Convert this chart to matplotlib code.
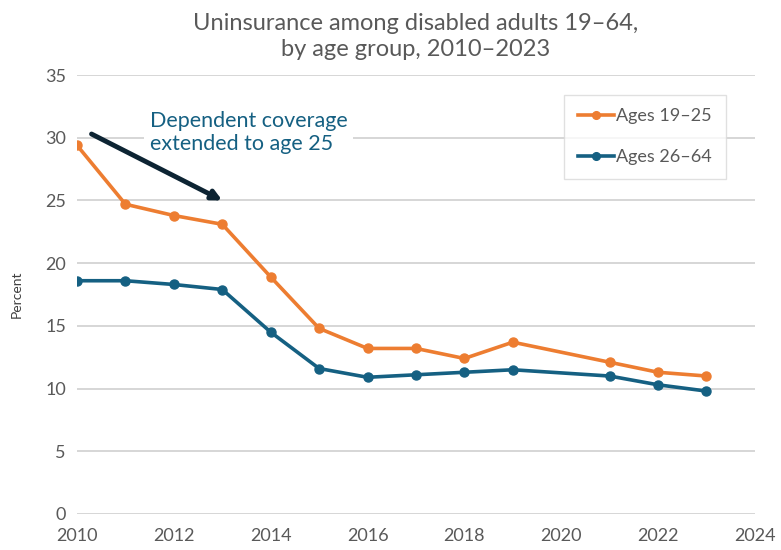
import matplotlib.pyplot as plt

years_young = [2010, 2011, 2012, 2013, 2014, 2015, 2016, 2017, 2018, 2019, 2021, 2022, 2023]
ages_19_25 = [29.4, 24.7, 23.8, 23.1, 18.9, 14.8, 13.2, 13.2, 12.4, 13.7, 12.1, 11.3, 11.0]
ages_26_64 = [18.6, 18.6, 18.3, 17.9, 14.5, 11.6, 10.9, 11.1, 11.3, 11.5, 11.0, 10.3, 9.8]
xticks = list(range(2010, 2025, 2))
yticks = list(range(0, 36, 5))

orange = '#ED7D31'
blue = '#156082'
grey = '#595959'

plt.rcParams['font.family'] = ['Lato', 'DejaVu Sans']

fig = plt.figure(figsize=(7.81, 5.5), dpi=100)
ax = fig.add_axes([0.0986, 0.0655, 0.868, 0.798])

ax.plot(years_young, ages_19_25, marker='o', markersize=6.5, linewidth=2.6,
        color=orange, label='Ages 19\u201325', zorder=3)
ax.plot(years_young, ages_26_64, marker='o', markersize=6.5, linewidth=2.6,
        color=blue, label='Ages 26\u201364', zorder=3)

ax.set_xlim(2010, 2024)
ax.set_ylim(0, 35)
ax.set_xticks(xticks)
ax.set_yticks(yticks)
ax.grid(axis='y', color='#d0d0d0', linewidth=1.2)
ax.set_axisbelow(True)
for s in ax.spines.values():
    s.set_visible(False)
ax.tick_params(length=0, labelsize=13, colors=grey, pad=8)
ax.tick_params(axis='x', pad=10)
ax.set_ylabel('Percent', fontsize=10, color='#404040', labelpad=16)

ax.set_title('Uninsurance among disabled adults 19\u201364,\nby age group, 2010\u20132023',
             fontsize=17, color=grey, pad=14, linespacing=1.25)

ax.text(2011.5, 30.4, 'Dependent coverage\nextended to age 25', fontsize=15.5, color=blue,
        va='center', ha='left', linespacing=1.2,
        bbox=dict(facecolor='white', edgecolor='none', pad=4), zorder=2)
ax.annotate('', xy=(2013.0, 25.0), xytext=(2010.3, 30.3),
            arrowprops=dict(arrowstyle='-|>', color='#0d2433', lw=3.5,
                            mutation_scale=14, shrinkA=0, shrinkB=0), zorder=4)

leg = ax.legend(loc='upper right', bbox_to_anchor=(0.965, 0.968), fontsize=13,
                frameon=True, fancybox=False, edgecolor='#d9d9d9', handlelength=2.0,
                labelspacing=1.4, borderpad=0.75, handletextpad=0.15, borderaxespad=0.3,
                markerscale=0.85)
leg.get_frame().set_linewidth(1.0)
for t in leg.get_texts():
    t.set_color(grey)

fig.savefig('out.png', dpi=100)
